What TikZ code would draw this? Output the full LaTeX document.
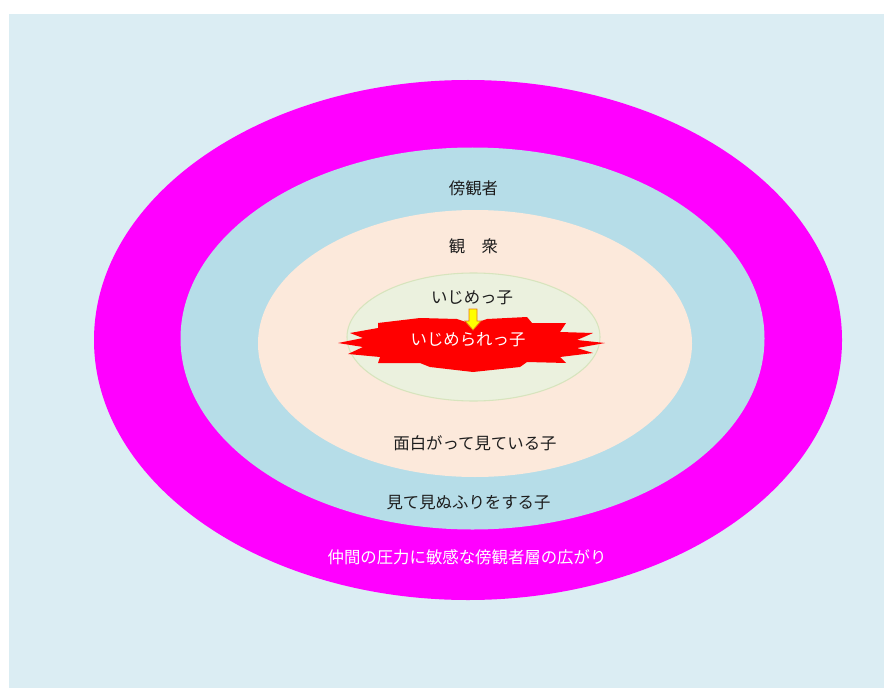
\documentclass[tikz,border=0pt]{standalone}
\usepackage{fontspec}
\setmainfont{Noto Sans CJK JP}
\definecolor{bgblue}{RGB}{219,237,243}
\definecolor{ringmag}{RGB}{255,0,255}
\definecolor{ringblue}{RGB}{182,221,232}
\definecolor{peach}{RGB}{252,233,219}
\definecolor{palegreen}{RGB}{235,241,222}
\definecolor{greenedge}{RGB}{215,228,189}
\definecolor{starred}{RGB}{255,0,0}
\definecolor{arrowfill}{RGB}{255,255,0}
\definecolor{txt}{RGB}{30,30,30}
\definecolor{arrowedge}{RGB}{230,120,20}
\tikzset{
  lbl/.style={font=\fontsize{12.3pt}{14pt}\selectfont, text=txt, inner sep=0pt},
  wlbl/.style={lbl, text=white},
}
\begin{document}
\begin{tikzpicture}[x=0.75pt,y=-0.75pt]
\useasboundingbox (0,0) rectangle (884,688);
\fill[bgblue] (9,14) rectangle (884,688);
% rings
\fill[ringmag] (468,340) ellipse [x radius=374, y radius=260];
\fill[ringblue] (472.5,338.5) ellipse [x radius=292, y radius=191];
\fill[peach] (475,343.5) ellipse [x radius=217, y radius=133.5];
\filldraw[fill=palegreen, draw=greenedge, line width=0.8pt] (473.5,337) ellipse [x radius=126.5, y radius=64];
% explosion
\fill[starred] (378,323) -- (420,318) -- (457,319) -- (472,324) -- (487,319) -- (527,317) -- (532,323) -- (566,323)
  -- (560,332) -- (593,333) -- (577,340) -- (605,343) -- (577,348) -- (593,353) -- (560,357) -- (566,363)
  -- (527,362) -- (520,367) -- (473,372) -- (430,367) -- (420,363) -- (378,363)
  -- (380,357) -- (348,354) -- (363,347) -- (338,343) -- (363,338) -- (350,333) -- (378,328) -- cycle;
% arrow
\filldraw[fill=arrowfill, draw=arrowedge, line width=0.6pt, line join=miter]
  (469,309) -- (477,309) -- (477,321) -- (481,321) -- (473,330) -- (465,321) -- (469,321) -- cycle;
% labels
\node[lbl] (bystander) at (473.5,188) {傍観者};
\node[lbl] (audience) at (473.5,246) {観　衆};
\node[lbl] (bully) at (472,298) {いじめっ子};
\node[wlbl] (victim) at (468,340) {いじめられっ子};
\node[lbl] (amused) at (475,443) {面白がって見ている子};
\node[lbl] (ignoring) at (468.5,503) {見て見ぬふりをする子};
\node[wlbl] (pressure) at (467,557) {仲間の圧力に敏感な傍観者層の広がり};
\end{tikzpicture}
\end{document}
